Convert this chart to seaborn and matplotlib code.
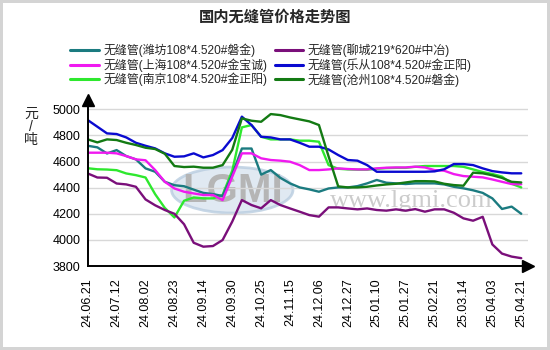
import numpy as np
import pandas as pd
import seaborn as sns
import matplotlib.pyplot as plt
from matplotlib.lines import Line2D
from matplotlib.patches import Ellipse

# tick labels (every 3rd sample)
dates = ["24.06.21", "24.07.12", "24.08.02", "24.08.23", "24.09.14", "24.09.30",
         "24.10.25", "24.11.15", "24.12.06", "24.12.27", "25.01.10", "25.01.27",
         "25.02.21", "25.03.14", "25.04.03", "25.04.21"]

# prices, 3 samples per tick interval
weifang = [4721, 4709, 4662, 4688, 4642, 4617, 4548, 4522, 4445, 4419, 4411, 4385,
           4360, 4351, 4336, 4500, 4700, 4700, 4500, 4535, 4475, 4433, 4402, 4387,
           4369, 4394, 4402, 4402, 4412, 4433, 4459, 4438, 4433, 4428, 4433, 4433,
           4433, 4425, 4407, 4395, 4380, 4360, 4318, 4237, 4255, 4200]
liaocheng = [4509, 4478, 4476, 4432, 4425, 4407, 4310, 4265, 4229, 4200, 4120, 3978,
             3948, 3953, 3999, 4140, 4305, 4267, 4242, 4305, 4267, 4241, 4216, 4190,
             4178, 4249, 4249, 4241, 4234, 4241, 4229, 4224, 4234, 4224, 4236, 4216,
             4234, 4234, 4208, 4165, 4147, 4177, 3965, 3895, 3872, 3860]
shanghai = [4668, 4668, 4668, 4663, 4642, 4617, 4610, 4535, 4445, 4394, 4369, 4356,
            4344, 4344, 4305, 4484, 4663, 4663, 4625, 4612, 4607, 4599, 4573, 4535,
            4535, 4540, 4548, 4543, 4540, 4540, 4548, 4553, 4555, 4555, 4561, 4555,
            4535, 4530, 4504, 4489, 4484, 4479, 4463, 4445, 4428, 4426]
lecong = [4918, 4867, 4816, 4811, 4785, 4744, 4721, 4701, 4663, 4637, 4640, 4663,
          4632, 4650, 4688, 4780, 4944, 4880, 4790, 4785, 4770, 4770, 4744, 4714,
          4714, 4693, 4650, 4612, 4607, 4573, 4522, 4522, 4522, 4522, 4522, 4522,
          4525, 4541, 4581, 4581, 4573, 4548, 4527, 4517, 4510, 4510]
nanjing = [4549, 4541, 4539, 4534, 4509, 4496, 4478, 4350, 4245, 4172, 4300, 4325,
           4318, 4318, 4344, 4530, 4862, 4880, 4790, 4770, 4770, 4770, 4760, 4760,
           4752, 4573, 4545, 4540, 4538, 4538, 4545, 4550, 4552, 4552, 4560, 4566,
           4566, 4566, 4566, 4560, 4540, 4520, 4505, 4485, 4430, 4402]
cangzhou = [4770, 4747, 4770, 4765, 4744, 4727, 4706, 4696, 4660, 4566, 4558, 4561,
            4553, 4553, 4573, 4690, 4931, 4913, 4905, 4964, 4956, 4938, 4923, 4908,
            4880, 4640, 4410, 4402, 4402, 4407, 4417, 4425, 4430, 4440, 4450, 4450,
            4448, 4430, 4420, 4415, 4515, 4510, 4495, 4475, 4445, 4440]

names = ["无缝管(潍坊108*4.520#磐金)", "无缝管(聊城219*620#中冶)",
         "无缝管(上海108*4.520#金宝诚)", "无缝管(乐从108*4.520#金正阳)",
         "无缝管(南京108*4.520#金正阳)", "无缝管(沧州108*4.520#磐金)"]
values = [weifang, liaocheng, shanghai, lecong, nanjing, cangzhou]
colors = ["#1b7b80", "#7a0f7a", "#f019f0", "#0a0ad0", "#2ee82e", "#137a13"]

rows = []
for name, vals in zip(names, values):
    for i, v in enumerate(vals):
        rows.append({"idx": i, "price": v, "name": name})
df = pd.DataFrame(rows)

sns.set_theme(style="white")
plt.rcParams['font.family'] = ['Liberation Sans', 'Noto Sans CJK SC']

fig = plt.figure(figsize=(5.5, 3.5), dpi=100)
fig.patch.set_edgecolor('#d4d4d4')
fig.patch.set_linewidth(3)
ax = fig.add_axes([0.1595, 0.24, 0.8005, 0.474])

# watermark
ax.add_patch(Ellipse((15.0, 4382), 12.6, 352, facecolor='#d9e4ef', edgecolor='#b9cde0',
                     lw=2, alpha=0.8, zorder=0))
ax.text(15.0, 4375, "LGMI", fontsize=29, fontweight='bold', color='#b5b5b5',
        ha='center', va='center', zorder=0.5)
ax.text(33.6, 4300, "www.lgmi.com", fontsize=19, color='#cccccc', family='Liberation Serif',
        ha='center', va='center', zorder=0.5)

draw_order = [names[4], names[0], names[1], names[2], names[3], names[5]]
palette = dict(zip(names, colors))
sns.lineplot(data=df, x="idx", y="price", hue="name", hue_order=draw_order,
             palette=palette, linewidth=1.7, legend=False, sort=False, ax=ax)

ax.set_xlim(0, 45.7)
ax.set_ylim(3800, 5071)
ax.set_yticks(range(3800, 5001, 200))
ax.set_xticks(range(0, 46, 3))
ax.set_xticklabels(dates, rotation=90)
ax.tick_params(axis='both', labelsize=9, colors='black', length=3, width=0.8)
ax.tick_params(axis='x', pad=6)
ax.tick_params(axis='y', pad=2)
ax.yaxis.grid(True, color='#d8d8d8', linewidth=1)
ax.set_axisbelow(True)
for s in ['top', 'right']:
    ax.spines[s].set_visible(False)
for s in ['left', 'bottom']:
    ax.spines[s].set_color('black')
    ax.spines[s].set_linewidth(1.4)
ax.plot(1, 0, '>', color='black', markersize=9, transform=ax.transAxes, clip_on=False)
ax.plot(0, 1, '^', color='black', markersize=9, transform=ax.transAxes, clip_on=False)
ax.set_xlabel("")
ax.set_ylabel("")

fig.text(31 / 550, 1 - 127 / 350, "元\n/\n吨", ha='center', va='center', fontsize=10,
         linespacing=0.95)
fig.text(0.5, 1 - 17 / 350, "国内无缝管价格走势图", ha='center', va='center',
         fontsize=11, fontweight='bold')

legend_order = [0, 2, 4, 1, 3, 5]
handles = [Line2D([0], [0], color=colors[i], lw=2.2) for i in legend_order]
labels = [names[i] for i in legend_order]
fig.legend(handles, labels, ncol=2, loc='center', bbox_to_anchor=(271 / 550, 1 - 65 / 350),
           frameon=False, fontsize=8.6, handlelength=2.4, handletextpad=0.4,
           columnspacing=0.6, labelspacing=0.1)

fig.savefig("out.png", dpi=100)
